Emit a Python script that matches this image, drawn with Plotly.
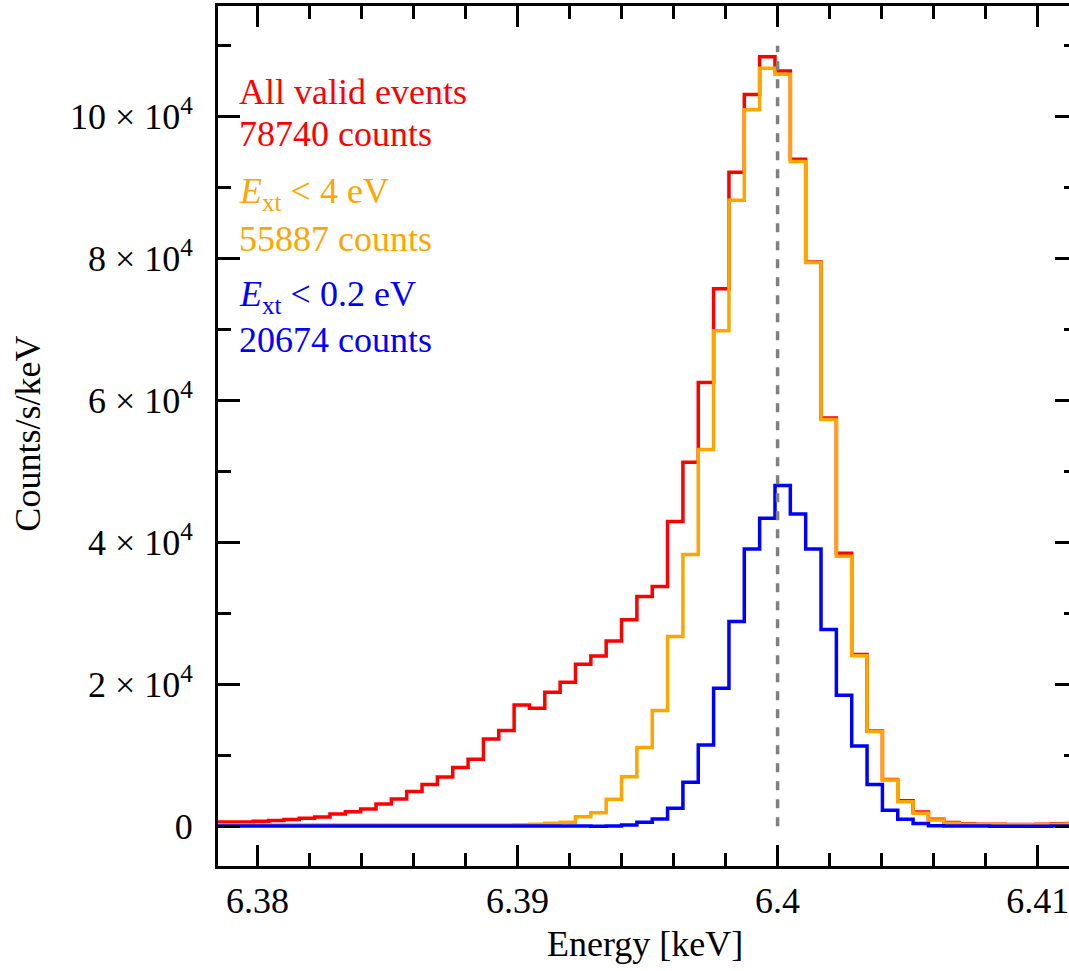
import numpy as np
import plotly.graph_objects as go

# Histogram binning (keV)
BIN_FIRST_EDGE = 6.37807
BIN_WIDTH = 0.00059

# Count rates per bin (counts/s/keV), lowest energy bin first
all_events = [600, 620, 600, 700, 820, 950, 1150, 1300, 1750, 2050,
              2450, 3150, 3850, 4900, 5900, 6950, 8300, 9450, 12300, 13500,
              17100, 16650, 18900, 20300, 22850, 24000, 26100, 29100, 32400, 33800,
              42950, 51300, 62550, 75750, 92200, 103150, 108450,
              106450, 94000, 79550, 57550, 38500, 24200, 13450, 6600, 3600, 2000,
              1000, 550, 350, 300, 280, 250, 250, 280, 350, 380]

ext_below_4ev = [200, 200, 200, 200, 200, 200, 200, 200, 200, 200,
                 200, 200, 200, 200, 200, 200, 200, 200, 200, 200,
                 230, 280, 420, 560, 1360, 1920, 3810, 7000, 11090, 16310,
                 26750, 38300, 53100, 69850, 88250, 101000, 106850,
                 106000, 93700, 79450, 57350, 38050, 24050, 13350, 6530, 3470, 1830,
                 890, 420, 300, 250, 250, 220, 220, 250, 300, 320]

ext_below_02ev = [30, 30, 40, 40, 60, 60, 40, 30, 30, 30,
                  30, 30, 40, 60, 50, 30, 30, 30, 30, 30,
                  30, 30, 30, 30, 40, 0, 40, 180, 560, 1030,
                  2540, 6210, 11470, 19450, 28850, 39080, 43420,
                  48020, 44020, 39080, 27750, 18480, 11330, 5880, 2260, 990, 380,
                  80, 40, 40, 40, 20, 20, 10, 10, 40, 60]

series_labels = [
    ["All valid events", "78740 counts"],
    ["<i>E</i><sub>xt</sub> &lt; 4 eV", "55887 counts"],
    ["<i>E</i><sub>xt</sub> &lt; 0.2 eV", "20674 counts"],
]
series_colors = ["#ff0000", "#ffa500", "#0000ff"]

# Reference line energy and height
LINE_ENERGY = 6.4
LINE_TOP = 110000

# Axis ticks
X_TICK0, X_DTICK, X_MINOR_DTICK = 6.38, 0.01, 0.002
y_tick_vals = [0, 20000, 40000, 60000, 80000, 100000]
y_tick_text = ["0", "2 × 10<sup>4</sup>", "4 × 10<sup>4</sup>", "6 × 10<sup>4</sup>",
               "8 × 10<sup>4</sup>", "10 × 10<sup>4</sup>"]
Y_MINOR_DTICK = 10000

X_RANGE = [6.378485, 6.411204]
Y_RANGE = [-5595, 115617]

SERIF = "Liberation Serif"

n_bins = len(all_events)
edges = BIN_FIRST_EDGE + BIN_WIDTH * np.arange(n_bins + 1)

fig = go.Figure()
for vals, color in zip([all_events, ext_below_4ev, ext_below_02ev], series_colors):
    fig.add_trace(go.Scatter(
        x=edges, y=list(vals) + [vals[-1]], mode="lines",
        line=dict(shape="hv", color=color, width=3.5),
        hoverinfo="skip", showlegend=False))

fig.add_trace(go.Scatter(
    x=[LINE_ENERGY, LINE_ENERGY], y=[0, LINE_TOP], mode="lines",
    line=dict(color="#808080", width=3.5, dash="9px,9px"),
    hoverinfo="skip", showlegend=False))

# empty trace so the right-hand tick axis is created
fig.add_trace(go.Scatter(x=[], y=[], yaxis="y2", showlegend=False, hoverinfo="skip"))

PL, PR, PT, PB = 218.3, 1069.0, 6.0, 866.0


def px_x(px):
    return (px - PL) / (PR - PL)


def px_y(py):
    return (PB - py) / (PB - PT)


annotations = []
label_centers = [(92, 134.5), (193, 238.5), (296, 340.5)]
for (l1, l2), color, (c1, c2) in zip(series_labels, series_colors, label_centers):
    for txt, cy in ((l1, c1), (l2, c2)):
        annotations.append(dict(
            text=txt, xref="paper", yref="paper", x=px_x(237), y=px_y(cy),
            xanchor="left", yanchor="middle", showarrow=False,
            font=dict(family=SERIF, size=36, color=color)))

annotations.append(dict(
    text="Counts/s/keV", xref="paper", yref="paper", x=px_x(28), y=px_y(434),
    xanchor="center", yanchor="middle", textangle=-90, showarrow=False,
    font=dict(family=SERIF, size=36, color="black")))
annotations.append(dict(
    text="Energy [keV]", xref="paper", yref="paper", x=px_x(645.5), y=px_y(944),
    xanchor="center", yanchor="middle", showarrow=False,
    font=dict(family=SERIF, size=36, color="black")))

fig.update_layout(
    width=1069, height=971,
    margin=dict(l=PL, r=1069 - PR, t=PT, b=971 - PB, pad=0, autoexpand=False),
    paper_bgcolor="white", plot_bgcolor="white",
    font=dict(family=SERIF, size=36, color="black"),
    showlegend=False,
    annotations=annotations,
    xaxis=dict(
        range=X_RANGE, autorange=False, showgrid=False, zeroline=False,
        showline=True, linewidth=3, linecolor="black", mirror="ticks",
        ticks="inside", ticklen=21, tickwidth=2.5, tickcolor="black",
        tickmode="linear", tick0=X_TICK0, dtick=X_DTICK, tickformat=".2~f",
        tickfont=dict(family=SERIF, size=36, color="black"),
        ticklabelstandoff=1, ticklabeloverflow="allow", automargin=False,
        minor=dict(tickmode="linear", tick0=X_TICK0, dtick=X_MINOR_DTICK,
                   ticks="inside", ticklen=13, tickwidth=2.5, tickcolor="black",
                   showgrid=False),
    ),
    yaxis=dict(
        range=Y_RANGE, autorange=False, showgrid=False, zeroline=False,
        showline=True, linewidth=3, linecolor="black", mirror=False,
        ticks="inside", ticklen=22, tickwidth=2.5, tickcolor="black",
        tickmode="array", tickvals=y_tick_vals, ticktext=y_tick_text,
        tickfont=dict(family=SERIF, size=36, color="black"),
        ticklabelstandoff=15, ticklabeloverflow="allow", automargin=False,
        minor=dict(tickmode="linear", tick0=0, dtick=Y_MINOR_DTICK, ticks="inside",
                   ticklen=13, tickwidth=2.5, tickcolor="black", showgrid=False),
    ),
    yaxis2=dict(
        range=Y_RANGE, autorange=False, overlaying="y", side="right", anchor="x",
        showgrid=False, zeroline=False, showline=False, showticklabels=False,
        ticks="inside", ticklen=14, tickwidth=2.5, tickcolor="black",
        tickmode="array", tickvals=y_tick_vals, automargin=False,
        minor=dict(tickmode="linear", tick0=0, dtick=Y_MINOR_DTICK, ticks="inside",
                   ticklen=5, tickwidth=2.5, tickcolor="black", showgrid=False),
    ),
)

fig.write_html("out.html")
